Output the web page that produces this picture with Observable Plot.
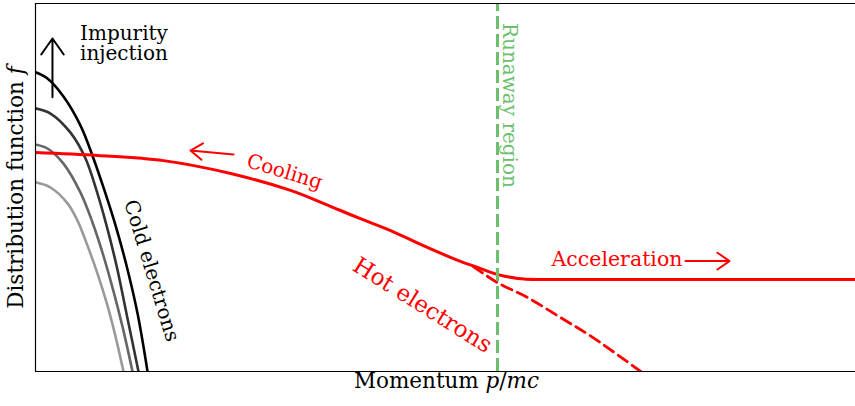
<!DOCTYPE html>
<html><head><meta charset="utf-8">
<script src="https://cdn.jsdelivr.net/npm/d3@7"></script>
<script src="https://cdn.jsdelivr.net/npm/@observablehq/plot@0.6"></script>
<style>html,body{margin:0;padding:0;background:#fff;}</style>
</head><body><div id="chart"></div>
<script>
// Schematic values: momentum p (0..10), distribution f (0..1)
const coldBlack = [[0,0.813],[0.146,0.796],[0.341,0.747],[0.549,0.668],[0.707,0.579],[0.841,0.492],[0.976,0.397],[1.110,0.288],[1.244,0.158],[1.366,0]];
const coldDark  = [[0,0.715],[0.183,0.701],[0.427,0.649],[0.610,0.579],[0.744,0.492],[0.866,0.397],[0.988,0.288],[1.122,0.144],[1.256,0]];
const coldGray  = [[0,0.617],[0.146,0.606],[0.341,0.565],[0.549,0.486],[0.695,0.405],[0.817,0.323],[0.939,0.228],[1.061,0.122],[1.183,0]];
const coldLight = [[0,0.514],[0.183,0.500],[0.390,0.457],[0.512,0.410],[0.634,0.342],[0.756,0.266],[0.878,0.179],[0.976,0.095],[1.073,0]];
const hotSolid  = [[0,0.595],[0.76,0.587],[1.56,0.573],[2.38,0.538],[3.11,0.492],[3.51,0.457],[3.93,0.418],[4.33,0.383],[4.73,0.342],[5.15,0.302],[5.39,0.283],[5.63,0.264],[5.88,0.253],[6.20,0.250],[6.52,0.250],[10,0.250]];
const hotDashed = [[5.34,0.285],[5.63,0.242],[6.00,0.201],[6.40,0.147],[6.80,0.092],[7.38,0]];
const runawayP = 5.634;
const coldColors = ["#999999", "#666666", "#333333", "#000000"];

// annotations: [text, p, f, rotate, color, size, anchor]
const labels = [
  ["Impurity\ninjection", 1.079, 0.891, 0, "#000", 20, "middle"],
  ["Cold electrons", 1.415, 0.274, 73, "#000", 20, "middle"],
  ["Cooling", 3.037, 0.543, 17, "#ff0000", 20, "middle"],
  ["Hot electrons", 4.72, 0.18, 32, "#ff0000", 23, "middle"],
  ["Runaway region", 5.78, 0.723, 90, "#6cbf6c", 20, "middle"],
  ["Acceleration", 6.293, 0.304, 0, "#ff0000", 20.5, "start"]
];
// arrows: [p1, f1, p2, f2, color]
const arrows = [
  [0.207, 0.745, 0.207, 0.905, "#000"],
  [2.415, 0.590, 1.890, 0.6005, "#ff0000"],
  [7.927, 0.300, 8.463, 0.300, "#ff0000"]
];
const xLabel = "Momentum p/mc";
const yLabel = "Distribution function f";

const rows = pts => pts.map(([p, f]) => ({p, f}));
const green = "#6cbf6c";

const marks = [];
[coldLight, coldGray, coldDark, coldBlack].forEach((c, i) => {
  marks.push(Plot.line(rows(c), {x: "p", y: "f", stroke: coldColors[i], strokeWidth: 2.6, curve: "catmull-rom", clip: true}));
});
marks.push(Plot.line(rows(hotDashed), {x: "p", y: "f", stroke: "#ff0000", strokeWidth: 2.8, strokeDasharray: "11,6", curve: "catmull-rom", clip: true}));
marks.push(Plot.line(rows(hotSolid), {x: "p", y: "f", stroke: "#ff0000", strokeWidth: 3, curve: "catmull-rom", clip: true}));
marks.push(Plot.ruleX([runawayP], {stroke: green, strokeWidth: 3, strokeDasharray: "13,5", y1: 0, y2: 1}));
marks.push(Plot.ruleX([0], {stroke: "#000", strokeWidth: 1.2}));
marks.push(Plot.ruleY([0, 1], {stroke: "#000", strokeWidth: 1.2}));
arrows.forEach(a => {
  marks.push(Plot.arrow([a], {x1: d => d[0], y1: d => d[1], x2: d => d[2], y2: d => d[3], stroke: a[4], strokeWidth: 2, headLength: 15, headAngle: 70}));
});
labels.forEach(l => {
  marks.push(Plot.text([l], {x: d => d[1], y: d => d[2], text: d => d[0], rotate: l[3], fill: l[4], fontSize: l[5], textAnchor: l[6], lineHeight: 1.0}));
});
marks.push(Plot.text([yLabel], {frameAnchor: "left", dx: -19, rotate: -90, textAnchor: "middle", fontSize: 21.5, fill: "#000"}));
marks.push(Plot.text([xLabel], {frameAnchor: "bottom", dx: 1, dy: 16, textAnchor: "middle", fontSize: 21.5, fill: "#000"}));

const chart = Plot.plot({
  width: 855, height: 406,
  marginLeft: 35, marginRight: 0, marginTop: 3, marginBottom: 35,
  x: {domain: [0, 10], axis: null},
  y: {domain: [0, 1], axis: null},
  style: {fontFamily: "DejaVu Serif", background: "#fff", overflow: "visible"},
  marks
});
document.getElementById("chart").appendChild(chart);

// italicize math symbols in the axis labels
d3.select(chart).selectAll("text").each(function() {
  const t = this.textContent;
  if (t === yLabel) this.innerHTML = 'Distribution function <tspan font-style="italic">f</tspan>';
  if (t === xLabel) this.innerHTML = 'Momentum <tspan font-style="italic">p</tspan>/<tspan font-style="italic">mc</tspan>';
});
</script></body></html>
